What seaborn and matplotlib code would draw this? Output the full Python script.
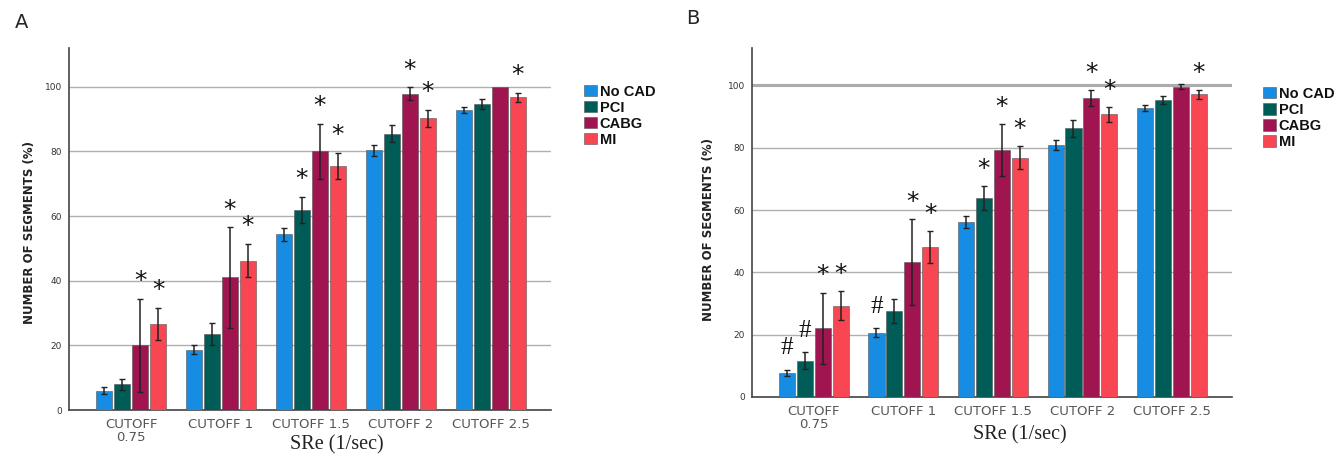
import matplotlib
matplotlib.use("Agg")
import matplotlib.pyplot as plt
import numpy as np
import pandas as pd
import seaborn as sns

# categories and groups
cutoffs = ["CUTOFF\n0.75", "CUTOFF 1", "CUTOFF 1.5", "CUTOFF 2", "CUTOFF 2.5"]
groups = ["No CAD", "PCI", "CABG", "MI"]
colors = ["#168ce3", "#005c56", "#a0144f", "#f84652"]

# panel A: means and error half-widths (per group, per cutoff)
a_mean = {
    "No CAD": [6.0, 18.6, 54.3, 80.3, 92.7],
    "PCI": [7.9, 23.5, 62.0, 85.5, 94.6],
    "CABG": [20.0, 41.0, 80.1, 97.8, 100.0],
    "MI": [26.7, 46.2, 75.5, 90.2, 96.7],
}
a_err = {
    "No CAD": [1.0, 1.4, 2.0, 1.6, 0.9],
    "PCI": [1.7, 3.3, 4.0, 2.7, 1.6],
    "CABG": [14.4, 15.5, 8.5, 2.0, 0.0],
    "MI": [5.0, 5.2, 4.0, 2.6, 1.4],
}
a_marks = {
    "No CAD": ["", "", "", "", ""],
    "PCI": ["", "", "*", "", ""],
    "CABG": ["*", "*", "*", "*", ""],
    "MI": ["*", "*", "*", "*", "*"],
}

# panel B
b_mean = {
    "No CAD": [7.7, 20.6, 56.2, 81.0, 92.8],
    "PCI": [11.7, 27.5, 63.8, 86.2, 95.4],
    "CABG": [22.1, 43.3, 79.2, 95.9, 99.6],
    "MI": [29.3, 48.2, 76.8, 90.7, 97.1],
}
b_err = {
    "No CAD": [1.0, 1.4, 1.9, 1.6, 0.9],
    "PCI": [2.6, 3.8, 3.9, 2.7, 1.3],
    "CABG": [11.4, 13.7, 8.4, 2.6, 0.8],
    "MI": [4.6, 5.1, 3.7, 2.4, 1.5],
}
b_marks = {
    "No CAD": ["#", "#", "", "", ""],
    "PCI": ["#", "", "*", "", ""],
    "CABG": ["*", "*", "*", "*", ""],
    "MI": ["*", "*", "*", "*", "*"],
}


def long_df(means):
    rows = []
    for g in groups:
        for c, v in zip(cutoffs, means[g]):
            rows.append({"cutoff": c, "group": g, "value": v})
    return pd.DataFrame(rows)


def draw_panel(ax, means, errs, marks, leg_pos, ylab_pos, xlab_pos):
    df = long_df(means)
    sns.barplot(data=df, x="cutoff", y="value", hue="group", order=cutoffs,
                hue_order=groups, palette=colors, errorbar=None, gap=0.1,
                width=0.8, ax=ax, saturation=1, zorder=3,
                edgecolor="#555555", linewidth=0.4)
    # error bars and significance marks, placed from the drawn bars
    bars = [p for p in ax.patches if p.get_height() > 0]
    k = 0
    for g in groups:
        for j in range(len(cutoffs)):
            p = bars[k]
            k += 1
            x = p.get_x() + p.get_width() / 2
            y = p.get_height()
            e = errs[g][j]
            if e > 0:
                ax.errorbar(x, y, yerr=e, fmt="none", ecolor="#222222",
                            elinewidth=1.1, capsize=2.2, capthick=1, zorder=4)
            m = marks[g][j]
            if m == "*":
                ax.text(x, y + e + 5.5, "*", ha="center", va="center",
                        fontsize=18, color="#111111")
            elif m == "#":
                ax.text(x, y + e + 7, "#", ha="center", va="center",
                        fontsize=18, family="Liberation Serif", color="#111111")
    ax.set_xlim(-0.69, 4.67)
    ax.set_ylim(0, 112)
    ax.set_yticks([0, 20, 40, 60, 80, 100])
    ax.yaxis.grid(True, color="#b0b0b0", linewidth=1, zorder=0)
    ax.xaxis.grid(False)
    ax.set_axisbelow(True)
    for s in ["top", "right"]:
        ax.spines[s].set_visible(False)
    for s in ["left", "bottom"]:
        ax.spines[s].set_color("#444444")
        ax.spines[s].set_linewidth(1.2)
    ax.tick_params(axis="y", labelsize=6.5, length=3, color="#666666",
                   labelcolor="#333333", pad=2)
    ax.tick_params(axis="x", labelsize=9.5, length=0, labelcolor="#555555", pad=6)
    for lab in ax.get_xticklabels():
        lab.set_linespacing(0.95)
    ax.set_xlabel("SRe (1/sec)", family="Liberation Serif", fontsize=14.5,
                  color="#222222", va="center")
    ax.xaxis.set_label_coords(*xlab_pos)
    ax.set_ylabel("NUMBER OF SEGMENTS (%)", fontsize=8.5, fontweight="bold",
                  color="#222222")
    ax.yaxis.set_label_coords(*ylab_pos)
    leg = ax.legend(loc="upper left", bbox_to_anchor=leg_pos, frameon=False,
                    handlelength=0.9, handleheight=0.8, handletextpad=0.2,
                    labelspacing=0.14,
                    prop={"family": "Liberation Sans", "size": 10.5, "weight": "bold"},
                    borderaxespad=0)
    for t in leg.get_texts():
        t.set_color("#111111")


sns.set_theme(style="white")
plt.rcParams["font.family"] = ["DejaVu Sans"]

fig = plt.figure(figsize=(13.38, 4.57), dpi=100)
ax_a = fig.add_axes([69 / 1338, 1 - 410 / 457, 482 / 1338, 362 / 457])
ax_b = fig.add_axes([752 / 1338, 1 - 397 / 457, 480 / 1338, 349 / 457])

draw_panel(ax_a, a_mean, a_err, a_marks, (1.056, 0.915), (-0.068, 0.49), (0.556, -0.097))
draw_panel(ax_b, b_mean, b_err, b_marks, (1.052, 0.905), (-0.077, 0.48), (0.558, -0.109))
# panel B shows a heavier line at 100
ax_b.axhline(100, color="#a8a8a8", linewidth=2.2, zorder=0)

fig.text(15 / 1338, 1 - 22 / 457, "A", fontsize=14, va="center", ha="left")
fig.text(686 / 1338, 1 - 18 / 457, "B", fontsize=14, va="center", ha="left")

fig.savefig("out.png", dpi=100)
